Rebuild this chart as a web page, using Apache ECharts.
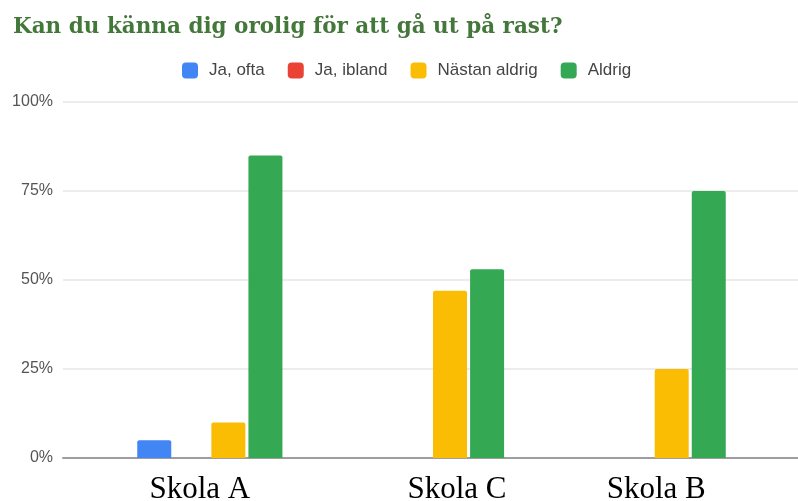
<!DOCTYPE html>
<html>
<head>
<meta charset="utf-8">
<script src="https://cdn.jsdelivr.net/npm/echarts@6/dist/echarts.min.js"></script>
<style>
  html, body { margin: 0; padding: 0; background: #fff; }
  #chart { width: 798px; height: 501px; }
</style>
</head>
<body>
<div id="chart"></div>
<script>
// data
const schools = ['Skola A', 'Skola C', 'Skola B'];
const seriesNames = ['Ja, ofta', 'Ja, ibland', 'Nästan aldrig', 'Aldrig'];
const jaOfta = [5, 0, 0];
const jaIbland = [0, 0, 0];
const nastanAldrig = [10, 47, 25];
const aldrig = [85, 53, 75];
const yTicks = [0, 25, 50, 75, 100];

const colors = ['#4285f4', '#ea4335', '#fbbc04', '#34a853'];
const values = [jaOfta, jaIbland, nastanAldrig, aldrig];

// the school names sit a little off the bar groups in the original
const labelFont = { fontFamily: 'Liberation Serif', fontSize: 31, color: '#000' };
const labelStyles = {
    a: Object.assign({ padding: [0, 20, 0, 0] }, labelFont),
    c: Object.assign({ padding: [0, 0, 0, 51] }, labelFont),
    b: Object.assign({ padding: [0, 0, 0, 6] }, labelFont)
};

const chart = echarts.init(document.getElementById('chart'));

const option = {
    animation: false,
    color: colors,
    title: {
        text: 'Kan du känna dig orolig för att gå ut på rast?',
        left: 8,
        top: 11,
        textStyle: {
            fontFamily: 'DejaVu Serif',
            fontWeight: 'bold',
            fontSize: 21.5,
            color: '#44773a'
        }
    },
    legend: {
        data: seriesNames,
        left: 177,
        top: 57,
        itemWidth: 16,
        itemHeight: 16,
        itemGap: 23,
        icon: 'roundRect',
        textStyle: {
            fontFamily: 'Liberation Sans',
            fontSize: 17,
            color: '#444',
            padding: [0, 0, 0, 6]
        }
    },
    grid: [
        // background grid: gridlines, y labels and baseline across the full width
        { left: 63, right: 0, top: 102, bottom: 43, outerBoundsMode: 'none' },
        // bar grid
        { left: 99, right: 34, top: 102, bottom: 43, outerBoundsMode: 'none' }
    ],
    xAxis: [
        {
            gridIndex: 0,
            type: 'value',
            min: 0,
            max: 1,
            axisLine: { show: true, lineStyle: { color: '#9e9e9e', width: 2 } },
            axisTick: { show: false },
            axisLabel: { show: false },
            splitLine: { show: false }
        },
        {
            gridIndex: 1,
            type: 'category',
            data: schools,
            axisLine: { show: false },
            axisTick: { show: false },
            axisLabel: {
                margin: 16,
                formatter: function (v) {
                    const key = v.slice(-1).toLowerCase();
                    return '{' + key + '|' + v + '}';
                },
                rich: labelStyles
            }
        }
    ],
    yAxis: [
        {
            gridIndex: 0,
            type: 'value',
            min: yTicks[0],
            max: yTicks[yTicks.length - 1],
            interval: 25,
            axisLine: { show: false },
            axisTick: { show: false },
            axisLabel: {
                formatter: '{value}%',
                margin: 10,
                fontFamily: 'Liberation Sans',
                fontSize: 16,
                color: '#555'
            },
            splitLine: { lineStyle: { color: '#ececec', width: 2 } }
        },
        {
            gridIndex: 1,
            type: 'value',
            min: yTicks[0],
            max: yTicks[yTicks.length - 1],
            interval: 25,
            show: false,
            splitLine: { show: false }
        }
    ],
    series: seriesNames.map((name, i) => ({
        name: name,
        type: 'bar',
        xAxisIndex: 1,
        yAxisIndex: 1,
        barWidth: 34,
        barGap: '9%',
        itemStyle: { color: colors[i], borderRadius: [2, 2, 0, 0] },
        data: values[i]
    }))
};

chart.setOption(option);
</script>
</body>
</html>
